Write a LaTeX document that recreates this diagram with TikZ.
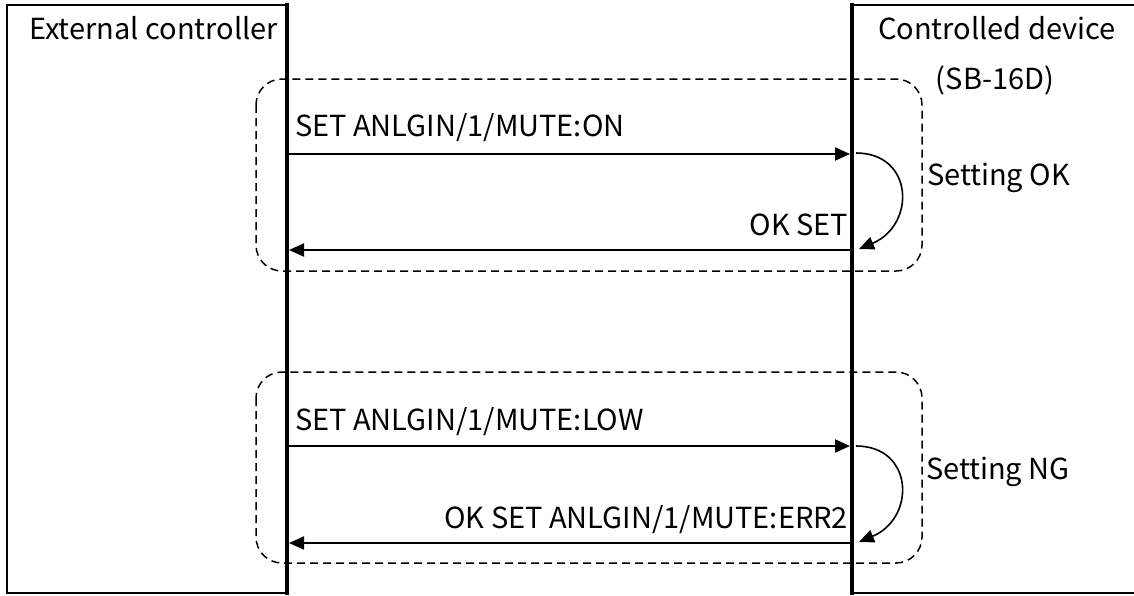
\documentclass[tikz,border=0pt]{standalone}
\usepackage{fontspec}
\setmainfont{Noto Sans CJK JP}
\usetikzlibrary{arrows.meta}
\begin{document}
\begin{tikzpicture}[x=1pt,y=-1pt,
  lbl/.style={inner sep=0pt, outer sep=0pt, font=\fontsize{29}{34}\selectfont},
  msg/.style={line width=2pt, -{Triangle[length=15pt,width=13pt]}},
  selfmsg/.style={line width=1.6pt, -{Triangle[length=15pt,width=13pt]}},
  grp/.style={line width=1.5pt, dash pattern=on 8pt off 5pt, rounded corners=26pt},
  frame/.style={line width=2.5pt},
  life/.style={line width=4pt}]
\useasboundingbox (0,0) rectangle (1134,595);
% group boxes
\draw[grp] (256,79) rectangle (922,271);
\draw[grp] (256,372) rectangle (922,563);
% left participant
\draw[frame] (287,5) -- (7,5) -- (7,593) -- (287,593);
\draw[life] (287,3) coordinate (Ltop) -- (287,595) coordinate (Lbot);
% right participant
\draw[frame] (1140,5) -- (852,5);
\draw[frame] (852,593) -- (1140,593);
\draw[life] (852,3) coordinate (Rtop) -- (852,595) coordinate (Rbot);
% labels
\node[lbl, anchor=base west] (ext) at (29,39) {External controller};
\node[lbl, anchor=base] (dev) at (997,39) {Controlled device};
\node[lbl, anchor=base] (sb) at (995,89) {(SB-16D)};
% message coordinates
\coordinate (m1s) at (289,154); \coordinate (m1e) at (850,154);
\coordinate (r1s) at (850,250); \coordinate (r1e) at (289,250);
\coordinate (m2s) at (289,446); \coordinate (m2e) at (850,446);
\coordinate (r2s) at (850,543); \coordinate (r2e) at (289,543);
\draw[msg] (m1s) -- (m1e);
\draw[msg] (r1s) -- (r1e);
\draw[msg] (m2s) -- (m2e);
\draw[msg] (r2s) -- (r2e);
\node[lbl, anchor=base west] (t1) at (295,136) {SET ANLGIN/1/MUTE:ON};
\node[lbl, anchor=base east] (t2) at (848,235) {OK SET};
\node[lbl, anchor=base west] (t3) at (295,430) {SET ANLGIN/1/MUTE:LOW};
\node[lbl, anchor=base east] (t4) at (848,528) {OK SET ANLGIN/1/MUTE:ERR2};
% self loops
\coordinate (c1s) at (856,153); \coordinate (c1e) at (859,249);
\coordinate (c2s) at (856,446); \coordinate (c2e) at (859,542);
\draw[selfmsg] (c1s) .. controls (914,153) and (916,225) .. (c1e);
\draw[selfmsg] (c2s) .. controls (914,446) and (916,518) .. (c2e);
\node[lbl, anchor=base west] (ok) at (927,185) {Setting OK};
\node[lbl, anchor=base west] (ng) at (926,479) {Setting NG};
\end{tikzpicture}
\end{document}
